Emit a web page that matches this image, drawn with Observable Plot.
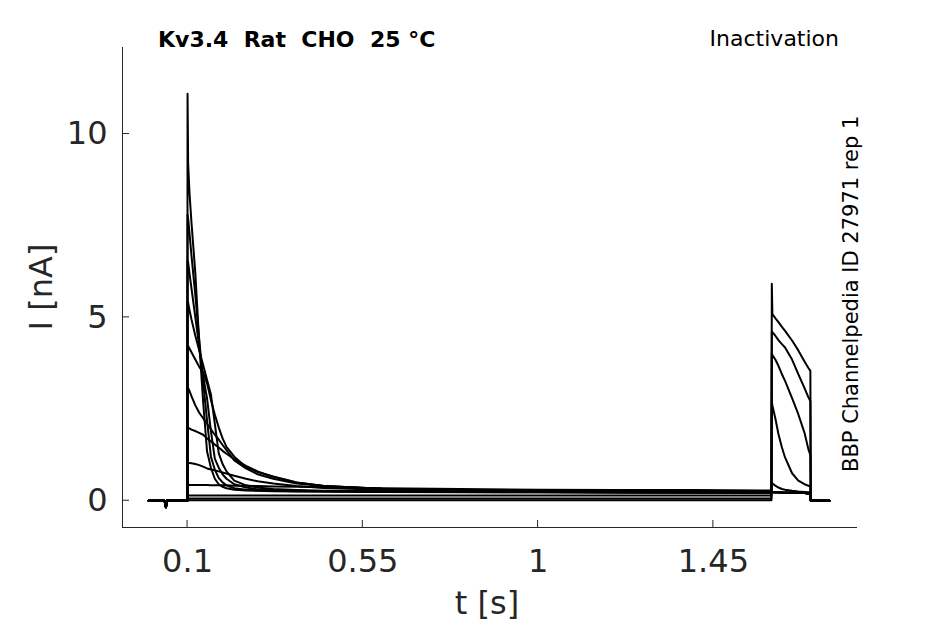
<!DOCTYPE html>
<html><head><meta charset="utf-8">
<script src="https://cdn.jsdelivr.net/npm/d3@7"></script>
<script src="https://cdn.jsdelivr.net/npm/@observablehq/plot@0.6"></script>
<style>body{margin:0;background:#fff} #chart svg{display:block}</style>
</head><body><div id="chart"></div>
<script>
// ---- data ----
const xTicks = [0.1, 0.55, 1, 1.45];
const yTicks = [0, 5, 10];
const xDomain = [-0.067, 1.82];
const yDomain = [-0.73, 12.36];

// holding period before the prepulse (shared by all sweeps)
const preT = [0, 0.041, 0.0445, 0.048, 0.0995];
const preI = [0, 0, -0.18, 0.01, 0];

// prepulse (inactivating) period
const tGrid = [0.1, 0.1015, 0.105, 0.11, 0.12, 0.13, 0.14, 0.15, 0.16, 0.17, 0.18, 0.19, 0.2, 0.22, 0.25, 0.28, 0.32, 0.38, 0.45, 0.6, 0.8, 1.0, 1.2, 1.4, 1.599];
const I1  = [11.1, 9.2, 8.4, 7.6, 6.2, 4.3, 2.7, 1.35, 0.9, 0.6, 0.45, 0.38, 0.34, 0.3, 0.28, 0.27, 0.26, 0.25, 0.25, 0.24, 0.23, 0.23, 0.22, 0.22, 0.22];
const I2  = [7.8, 7.7, 7.3, 6.7, 5.6, 4.4, 3.25, 2.2, 1.2, 0.85, 0.62, 0.5, 0.42, 0.34, 0.3, 0.28, 0.27, 0.26, 0.25, 0.24, 0.24, 0.23, 0.23, 0.22, 0.22];
const I3  = [6.55, 6.5, 6.2, 5.8, 5.0, 4.2, 3.4, 2.8, 1.9, 1.15, 0.9, 0.72, 0.6, 0.45, 0.36, 0.31, 0.29, 0.27, 0.26, 0.25, 0.24, 0.24, 0.23, 0.23, 0.22];
const I4  = [5.45, 5.4, 5.2, 4.95, 4.5, 4.1, 3.7, 3.3, 2.9, 2.1, 1.3, 1.0, 0.8, 0.55, 0.42, 0.36, 0.32, 0.29, 0.27, 0.26, 0.25, 0.24, 0.24, 0.23, 0.23];
const I5  = [4.25, 4.22, 4.15, 4.05, 3.85, 3.65, 3.5, 3.2, 2.75, 2.35, 2.0, 1.7, 1.47, 1.2, 0.92, 0.78, 0.66, 0.5, 0.4, 0.32, 0.28, 0.27, 0.26, 0.25, 0.25];
const I6  = [3.1, 3.07, 3.0, 2.85, 2.6, 2.4, 2.25, 2.1, 1.95, 1.8, 1.67, 1.52, 1.38, 1.1, 0.88, 0.72, 0.6, 0.47, 0.4, 0.33, 0.29, 0.27, 0.26, 0.25, 0.25];
const I7  = [2.0, 1.99, 1.97, 1.94, 1.9, 1.85, 1.8, 1.7, 1.62, 1.53, 1.45, 1.36, 1.28, 1.13, 0.95, 0.8, 0.65, 0.5, 0.4, 0.33, 0.29, 0.27, 0.26, 0.25, 0.25];
const I8  = [1.03, 1.03, 1.03, 1.02, 1.0, 0.97, 0.93, 0.88, 0.85, 0.83, 0.8, 0.77, 0.74, 0.68, 0.6, 0.53, 0.47, 0.4, 0.35, 0.3, 0.27, 0.26, 0.25, 0.24, 0.24];
const I9  = [0.43, 0.43, 0.43, 0.43, 0.43, 0.43, 0.43, 0.43, 0.42, 0.42, 0.42, 0.42, 0.42, 0.41, 0.41, 0.4, 0.39, 0.38, 0.37, 0.34, 0.32, 0.3, 0.29, 0.29, 0.28];
const I10 = [0.14, 0.14, 0.14, 0.14, 0.14, 0.14, 0.14, 0.14, 0.14, 0.14, 0.14, 0.14, 0.14, 0.14, 0.14, 0.14, 0.14, 0.14, 0.14, 0.14, 0.14, 0.14, 0.14, 0.14, 0.14];
const I11 = [0.06, 0.06, 0.06, 0.06, 0.06, 0.06, 0.06, 0.06, 0.06, 0.06, 0.06, 0.06, 0.06, 0.06, 0.06, 0.06, 0.06, 0.06, 0.06, 0.06, 0.06, 0.06, 0.06, 0.06, 0.06];
const I12 = [0.01, 0.01, 0.01, 0.01, 0.01, 0.01, 0.01, 0.01, 0.01, 0.01, 0.01, 0.01, 0.01, 0.01, 0.01, 0.01, 0.01, 0.01, 0.01, 0.01, 0.01, 0.01, 0.01, 0.01, 0.01];

// test pulse period
const testT = [1.6, 1.6015, 1.609, 1.617, 1.626, 1.634, 1.652, 1.668, 1.684, 1.694, 1.699];
const testFlat = [0.24, 0.24, 0.23, 0.23, 0.22, 0.22, 0.22, 0.21, 0.21, 0.2, 0.2];
const testE = [0.5, 0.48, 0.41, 0.36, 0.32, 0.3, 0.27, 0.25, 0.24, 0.23, 0.23];
const testD = [2.72, 2.6, 2.25, 1.82, 1.45, 1.18, 0.75, 0.55, 0.45, 0.41, 0.38];
const testC = [4.0, 3.97, 3.85, 3.68, 3.45, 3.27, 2.8, 2.36, 1.85, 1.4, 1.25];
const testB = [4.63, 4.6, 4.5, 4.38, 4.27, 4.18, 3.85, 3.45, 3.07, 2.82, 2.72];
const testA = [5.92, 5.09, 4.98, 4.87, 4.74, 4.63, 4.37, 4.1, 3.8, 3.62, 3.54];

// tail after the test pulse
const postT = [1.7, 1.748];
const postI = [0.0, 0.0];

// ---- build table ----
const prepulses = [I1, I2, I3, I4, I5, I6, I7, I8, I9, I10, I11, I12];
const tests = [testFlat, testFlat, testFlat, testFlat, testFlat, testFlat, testFlat, testE, testD, testC, testB, testA];
const rows = [];
prepulses.forEach((P, k) => {
  preT.forEach((t, i) => rows.push({sweep: k, t, I: preI[i]}));
  tGrid.forEach((t, i) => rows.push({sweep: k, t, I: P[i]}));
  testT.forEach((t, i) => rows.push({sweep: k, t, I: tests[k][i]}));
  postT.forEach((t, i) => rows.push({sweep: k, t, I: postI[i]}));
});

const W = 945, H = 624;
const mL = 122, mR = 88, mT = 47, mB = 97;
const axisColor = "#262626";
const font = "DejaVu Sans";

const chart = Plot.plot({
  width: W, height: H,
  marginLeft: mL, marginRight: mR, marginTop: mT, marginBottom: mB,
  x: {domain: xDomain},
  y: {domain: yDomain},
  style: {fontFamily: font, fontSize: "32px", color: axisColor, background: "white", overflow: "visible"},
  marks: [
    Plot.line(rows, {x: "t", y: "I", z: "sweep", stroke: "black", strokeWidth: 2}),
    Plot.ruleY([yDomain[0]], {stroke: axisColor, strokeWidth: 1}),
    Plot.ruleX([xDomain[0]], {stroke: axisColor, strokeWidth: 1}),
    Plot.axisX(xTicks, {tickSize: 0, tickPadding: 22, label: null, tickFormat: d => String(d)}),
    Plot.axisY(yTicks, {tickSize: 0, tickPadding: 15, label: null, tickFormat: d => String(d)})
  ]
});
document.getElementById("chart").appendChild(chart);

// inward tick marks using the plot's own scales
const svg = d3.select(chart);
const sx = chart.scale("x"), sy = chart.scale("y");
const yBottom = sy.apply(yDomain[0]), xLeft = sx.apply(xDomain[0]);
const g = svg.append("g").attr("stroke", axisColor).attr("stroke-width", 1);
xTicks.forEach(v => {
  const x = sx.apply(v);
  g.append("line").attr("x1", x).attr("x2", x).attr("y1", yBottom).attr("y2", yBottom - 7);
});
yTicks.forEach(v => {
  const y = sy.apply(v);
  g.append("line").attr("x1", xLeft).attr("x2", xLeft + 7).attr("y1", y).attr("y2", y);
});

// texts
svg.append("text").attr("x", 158).attr("y", 47).attr("text-anchor", "start")
  .attr("font-family", font).attr("font-size", 22).attr("font-weight", "bold")
  .attr("fill", "black").style("white-space", "pre")
  .text("Kv3.4  Rat  CHO  25 °C");
svg.append("text").attr("x", 839).attr("y", 46).attr("text-anchor", "end")
  .attr("font-family", font).attr("font-size", 22).attr("fill", "black")
  .text("Inactivation");
svg.append("text").attr("transform", "translate(858,472) rotate(-90)").attr("text-anchor", "start")
  .attr("font-family", font).attr("font-size", 21).attr("fill", "black")
  .text("BBP Channelpedia ID 27971 rep 1");
svg.append("text").attr("x", 487).attr("y", 614).attr("text-anchor", "middle")
  .attr("font-family", font).attr("font-size", 32).attr("fill", axisColor)
  .text("t [s]");
svg.append("text").attr("transform", "translate(52,287) rotate(-90)").attr("text-anchor", "middle")
  .attr("font-family", font).attr("font-size", 32).attr("fill", axisColor)
  .text("I [nA]");
</script>
</body></html>
